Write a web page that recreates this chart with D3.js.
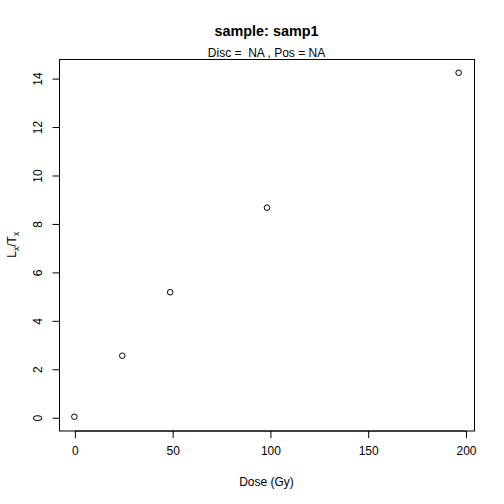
<!DOCTYPE html>
<html><head><meta charset="utf-8">
<script src="https://cdn.jsdelivr.net/npm/d3@7"></script>
<style>body{margin:0;background:#fff}svg{display:block}text{font-family:"Liberation Sans",Arial,sans-serif;fill:#000}</style>
</head><body>
<script>
const dose = [0, 24.5, 49, 98.5, 196.5];
const lxtx = [0.02, 2.54, 5.16, 8.65, 14.22];
const xTicks = [0, 50, 100, 150, 200];
const yTicks = [0, 2, 4, 6, 8, 10, 12, 14];
const title = "sample: samp1";
const subtitle = "Disc =  NA , Pos = NA";

const W = 504, H = 504;
const m = {l: 59, r: 30, t: 59, b: 73.5};
const svg = d3.select("body").append("svg").attr("width", W).attr("height", H);

function ext(a){const lo=d3.min(a),hi=d3.max(a),d=(hi-lo)*0.04;return [lo-d,hi+d];}
const x = d3.scaleLinear().domain(ext(dose)).range([m.l, W - m.r]);
const y = d3.scaleLinear().domain(ext(lxtx)).range([H - m.b, m.t]);

// box
svg.append("rect").attr("x", m.l+0.5).attr("y", m.t+0.5)
  .attr("width", W-m.r-m.l).attr("height", H-m.b-m.t)
  .attr("fill","none").attr("stroke","#000").attr("stroke-width",1);

const xa = svg.append("g").attr("transform",`translate(0.5,${H-m.b+0.5})`)
  .call(d3.axisBottom(x).tickValues(xTicks).tickSize(7).tickPadding(8).tickSizeOuter(0));
xa.select(".domain").remove();
xa.append("line").attr("x1",x(xTicks[0])).attr("x2",x(xTicks[xTicks.length-1])).attr("stroke","#000");
xa.selectAll("text").attr("font-size",12).style("font-family","Liberation Sans, Arial, sans-serif").attr("fill","#000");

const ya = svg.append("g").attr("transform",`translate(${m.l+0.5},0.5)`)
  .call(d3.axisLeft(y).tickValues(yTicks).tickSize(7).tickSizeOuter(0));
ya.select(".domain").remove();
ya.append("line").attr("y1",y(yTicks[0])).attr("y2",y(yTicks[yTicks.length-1])).attr("stroke","#000");
ya.selectAll(".tick text").attr("x",null).attr("dy",null)
  .attr("transform","translate(-18,0) rotate(-90)").attr("text-anchor","middle").attr("dominant-baseline","auto")
  .attr("y",0).attr("font-size",12).style("font-family","Liberation Sans, Arial, sans-serif").attr("fill","#000");

// points
svg.append("g").selectAll("circle").data(dose).join("circle")
  .attr("cx",(d)=>x(d)).attr("cy",(d,i)=>y(lxtx[i])).attr("r",2.8)
  .attr("fill","none").attr("stroke","#000").attr("stroke-width",1);

const cx = (m.l + W - m.r)/2;
svg.append("text").attr("x",cx).attr("y",36).attr("text-anchor","middle")
  .attr("font-size",14.4).attr("font-weight","bold").text(title);
svg.append("text").attr("x",cx).attr("y",56.5).attr("text-anchor","middle")
  .attr("font-size",12).style("white-space","pre").attr("xml:space","preserve").text(subtitle);
svg.append("text").attr("x",cx).attr("y",486).attr("text-anchor","middle")
  .attr("font-size",12).text("Dose (Gy)");

const yl = svg.append("text").attr("transform",`translate(16,${(m.t+H-m.b)/2}) rotate(-90)`)
  .attr("text-anchor","middle").attr("font-size",12);
yl.append("tspan").text("L");
yl.append("tspan").attr("font-size",8.5).attr("dy",3).text("x");
yl.append("tspan").attr("dy",-3).text("/T");
yl.append("tspan").attr("font-size",8.5).attr("dy",3).text("x");
</script>
</body></html>
